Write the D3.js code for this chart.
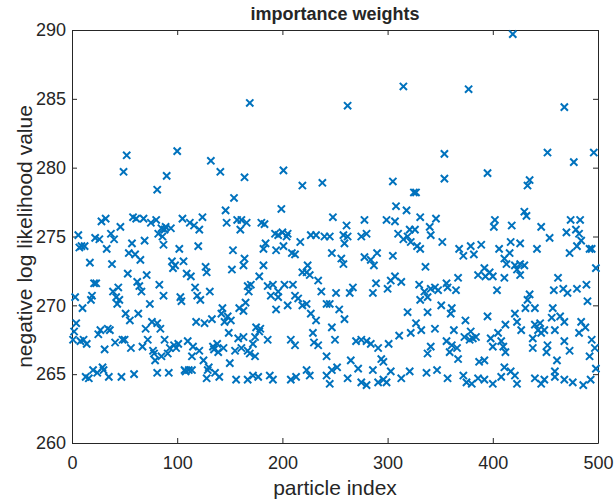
<!DOCTYPE html>
<html>
<head>
<meta charset="utf-8">
<script src="https://cdn.jsdelivr.net/npm/d3@7"></script>
<style>
  body { margin: 0; background: #fff; }
  text { font-family: "Liberation Sans", Arial, Helvetica, sans-serif; fill: #262626; }
</style>
</head>
<body>
<div id="chart"></div>
<script>
// particle index / negative log likelihood
var particle = [
  52, 49, 32, 28, 58, 61, 68, 75, 46, 6, 22, 26, 37, 40, 9, 12, 7, 57, 69, 33,
  54, 60, 65, 17, 38, 53, 71, 21, 23, 62, 64, 66, 44, 39, 42, 45, 43, 3, 19, 18,
  10, 74, 51, 55, 63, 76, 70, 4, 2, 27, 25, 34, 36, 48, 50, 41, 31, 1, 8, 14,
  11, 56, 67, 72, 77, 79, 78, 13, 20, 16, 29, 30, 24, 35, 47, 59,
  100, 132, 90, 141, 81, 154, 146, 105, 112, 116, 124, 121, 80, 85, 89, 94, 82, 86, 88, 147,
  157, 160, 87, 102, 120, 153, 152, 95, 98, 106, 96, 127, 128, 109, 113, 83, 87, 117, 119, 122,
  131, 103, 104, 143, 142, 148, 159, 145, 151, 118, 126, 133, 81, 84, 149, 158, 163, 88, 97, 99,
  110, 93, 101, 115, 121, 114, 134, 135, 138, 139, 144, 155, 161, 85, 91, 150, 125, 130, 107, 111,
  114, 108, 81, 92, 129, 136, 128, 140, 156,
  201, 164, 219, 238, 199, 166, 161, 180, 183, 193, 200, 204, 196, 205, 227, 232, 240, 184, 182, 194,
  201, 209, 212, 217, 164, 163, 182, 224, 219, 226, 223, 234, 237, 178, 170, 168, 167, 165, 163, 186,
  191, 189, 196, 196, 202, 210, 212, 215, 219, 223, 205, 194, 227, 232, 242, 175, 179, 178, 174, 172,
  167, 174, 169, 186, 208, 212, 229, 230, 234, 242, 172, 177, 167, 188, 191, 208, 213, 223, 226, 242,
  245,
  305, 325, 308, 318, 248, 278, 299, 307, 261, 258, 262, 259, 245, 275, 280, 310, 315, 321, 322, 319,
  247, 256, 258, 278, 284, 287, 290, 305, 307, 313, 303, 300, 289, 286, 267, 264, 251, 245, 254, 259,
  319, 247, 250, 270, 275, 280, 284, 291, 301, 311, 322, 294, 296, 265, 272, 252, 247, 286, 303, 321,
  313, 262, 275, 291, 296, 299, 280,
  354, 354, 395, 327, 402, 401, 331, 346, 340, 341, 326, 352, 328, 331, 368, 372, 379, 382, 389, 406,
  411, 336, 386, 392, 397, 393, 400, 330, 335, 341, 345, 348, 356, 357, 367, 365, 404, 331, 338, 351,
  361, 360, 338, 374, 395, 327, 332, 345, 363, 373, 379, 381, 378, 384, 398, 405, 356, 359, 361, 366,
  341, 338, 367, 400, 408, 387, 392, 337, 347, 357, 372, 375, 380, 386, 392, 400, 408,
  452, 477, 496, 435, 433, 430, 432, 418, 446, 454, 470, 474, 483, 479, 482, 417, 426, 442, 416, 473,
  480, 484, 492, 494, 413, 421, 426, 430, 423, 426, 498, 411, 462, 458, 467, 471, 480, 489, 490, 435,
  433, 431, 440, 421, 457, 456, 464, 468, 412, 423, 427, 440, 445, 443, 449, 459, 446, 484, 488, 482,
  438, 438, 452, 451, 468, 473, 494, 497, 492, 412, 410, 461, 459, 459, 411, 417, 421, 440, 449, 446,
  423, 468, 476, 486, 493, 498,
  169, 262, 315, 377, 468, 419
];
var nll = [
  280.9, 279.7, 276.3, 276.1, 276.4, 276.3, 276.3, 276.0, 275.7, 275.1, 274.9, 274.8, 275.2, 274.8, 274.3, 274.3, 274.2, 274.5, 274.7, 274.1,
  273.8, 273.7, 273.3, 273.1, 273.0, 272.3, 272.2, 271.6, 271.6, 271.7, 271.4, 271.0, 271.3, 271.0, 270.6, 270.4, 270.1, 270.6, 270.7, 270.4,
  269.8, 270.1, 269.4, 268.9, 269.4, 268.8, 268.3, 268.7, 268.1, 268.2, 267.9, 268.3, 268.2, 267.5, 267.5, 267.3, 266.8, 267.5, 267.4, 267.2,
  267.5, 266.9, 267.0, 267.5, 266.7, 266.0, 266.5, 264.8, 265.3, 264.7, 265.5, 265.3, 265.1, 264.8, 264.8, 265.0,
  281.2, 280.5, 279.4, 279.7, 278.4, 277.8, 276.9, 276.3, 276.0, 275.8, 276.4, 275.5, 276.2, 275.6, 275.7, 275.6, 275.2, 275.0, 275.5, 276.0,
  276.2, 275.5, 274.4, 274.1, 274.3, 274.0, 272.6, 273.2, 272.9, 273.2, 272.7, 272.8, 272.4, 272.3, 272.1, 271.5, 270.7, 271.3, 270.7, 270.4,
  271.0, 270.6, 270.3, 269.8, 269.4, 269.2, 269.8, 268.8, 268.9, 268.8, 268.7, 269.0, 268.7, 268.3, 268.0, 267.6, 267.7, 267.5, 267.1, 266.9,
  267.4, 266.9, 267.2, 267.0, 266.7, 266.3, 267.0, 266.8, 267.2, 266.6, 266.9, 266.7, 266.9, 266.3, 266.5, 265.8, 266.0, 265.5, 265.3, 265.3,
  265.3, 265.2, 265.1, 265.1, 265.3, 265.1, 264.7, 264.8, 264.6,
  279.8, 279.3, 278.7, 278.9, 277.0, 276.0, 276.2, 276.0, 275.9, 275.2, 275.3, 275.0, 275.1, 275.2, 275.1, 275.1, 275.0, 274.5, 274.1, 274.0,
  274.3, 273.8, 273.7, 274.6, 273.4, 272.9, 272.9, 272.9, 272.4, 272.2, 272.4, 271.8, 271.0, 272.1, 271.5, 271.0, 271.4, 270.2, 269.6, 271.4,
  271.5, 270.7, 271.0, 270.6, 271.5, 271.5, 270.7, 270.5, 270.0, 270.1, 270.0, 269.7, 269.4, 268.9, 270.1, 268.4, 268.3, 268.1, 267.7, 267.2,
  266.7, 266.3, 266.5, 267.5, 267.5, 267.1, 268.0, 267.3, 267.1, 266.3, 264.9, 264.8, 264.6, 264.9, 264.6, 264.6, 264.8, 265.3, 264.9, 264.9,
  264.3,
  279.0, 278.2, 277.2, 276.9, 276.4, 276.2, 276.2, 276.1, 275.8, 275.1, 275.0, 274.5, 275.0, 275.0, 275.2, 275.2, 274.8, 275.5, 274.6, 275.0,
  273.8, 273.4, 273.0, 273.5, 273.3, 272.9, 273.8, 273.6, 272.1, 271.7, 271.8, 271.2, 271.6, 270.9, 271.3, 270.9, 270.9, 270.1, 269.7, 269.0,
  269.5, 268.4, 267.5, 267.4, 267.5, 267.4, 267.2, 266.9, 267.2, 267.8, 268.0, 266.1, 265.9, 266.0, 265.4, 265.5, 265.3, 265.3, 265.2, 265.2,
  264.7, 264.7, 264.4, 264.4, 264.6, 264.4, 264.2,
  281.0, 279.2, 279.6, 278.2, 276.2, 275.7, 276.4, 276.3, 275.7, 275.1, 275.5, 274.6, 274.3, 274.1, 274.1, 273.6, 274.3, 273.7, 274.4, 274.1,
  273.4, 272.8, 272.2, 272.7, 272.4, 272.1, 272.1, 271.5, 271.0, 271.2, 271.3, 271.1, 271.6, 271.3, 272.0, 271.1, 271.1, 270.4, 270.6, 270.0,
  269.8, 269.4, 269.5, 268.9, 269.2, 268.7, 268.2, 268.3, 268.2, 267.7, 268.1, 267.6, 267.5, 267.7, 267.6, 268.0, 267.4, 266.6, 267.1, 266.9,
  267.0, 266.5, 266.1, 267.0, 267.4, 265.9, 266.0, 265.1, 265.3, 264.7, 264.9, 264.4, 264.3, 264.7, 264.6, 264.3, 264.8,
  281.1, 280.4, 281.1, 279.1, 278.7, 276.8, 276.5, 275.8, 275.7, 274.9, 275.3, 276.2, 276.2, 275.5, 275.2, 274.6, 274.5, 274.1, 273.8, 273.8,
  274.3, 274.7, 274.1, 274.1, 273.0, 272.9, 273.0, 272.9, 272.6, 272.2, 272.7, 272.0, 272.0, 271.1, 271.2, 270.9, 271.2, 271.5, 270.3, 270.8,
  270.4, 269.8, 269.8, 269.4, 269.8, 269.1, 269.2, 268.8, 268.6, 268.8, 268.2, 268.6, 268.7, 268.2, 268.2, 268.2, 268.0, 268.8, 268.4, 268.0,
  267.6, 266.9, 267.1, 266.6, 267.4, 266.7, 267.5, 266.9, 266.3, 266.6, 267.0, 266.0, 265.2, 264.8, 265.5, 265.2, 264.9, 264.7, 264.6, 264.3,
  264.3, 264.6, 264.4, 264.2, 264.6, 265.4,
  284.7, 284.5, 285.9, 285.7, 284.4, 289.7
];
var xTicks = [0, 100, 200, 300, 400, 500];
var yTicks = [260, 265, 270, 275, 280, 285, 290];

var width = 614, height = 503;
var margin = {top: 30, right: 16, bottom: 60, left: 72};
var plotW = width - margin.left - margin.right,
    plotH = height - margin.top - margin.bottom;

var svg = d3.select('#chart').append('svg')
  .attr('width', width)
  .attr('height', height);

var x = d3.scaleLinear().domain([0, 500]).range([0, plotW]);
var y = d3.scaleLinear().domain([260, 290]).range([plotH, 0]);

var g = svg.append('g')
  .attr('transform', 'translate(' + margin.left + ',' + margin.top + ')');

var axisColor = '#262626';
var tickLen = 5;

// axes with inward ticks, MATLAB style
var xAxis = g.append('g').attr('transform', 'translate(0,' + plotH + ')')
  .call(d3.axisBottom(x).tickValues(xTicks).tickSizeInner(-tickLen).tickSizeOuter(0).tickPadding(13));
var xAxisTop = g.append('g')
  .call(d3.axisTop(x).tickValues(xTicks).tickSizeInner(-tickLen).tickSizeOuter(0).tickFormat(''));
var yAxis = g.append('g')
  .call(d3.axisLeft(y).tickValues(yTicks).tickSizeInner(-tickLen).tickSizeOuter(0).tickPadding(6));
var yAxisRight = g.append('g').attr('transform', 'translate(' + plotW + ',0)')
  .call(d3.axisRight(y).tickValues(yTicks).tickSizeInner(-tickLen).tickSizeOuter(0).tickFormat(''));

[xAxis, xAxisTop, yAxis, yAxisRight].forEach(function(a) {
  a.select('.domain').attr('stroke', axisColor).attr('stroke-width', 1);
  a.selectAll('.tick line').attr('stroke', axisColor).attr('stroke-width', 1);
  a.selectAll('.tick text')
    .attr('fill', axisColor)
    .style('font-family', '"Liberation Sans", Arial, sans-serif')
    .style('font-size', '18px');
});

var pts = particle.map(function(p, i) { return {p: p, v: nll[i]}; });

var s = 3.6;
g.append('g').selectAll('path')
  .data(pts)
  .enter().append('path')
  .attr('transform', function(d) { return 'translate(' + x(d.p) + ',' + y(d.v) + ')'; })
  .attr('d', 'M' + (-s) + ',' + (-s) + 'L' + s + ',' + s + 'M' + (-s) + ',' + s + 'L' + s + ',' + (-s))
  .attr('stroke', '#0072BD')
  .attr('stroke-width', 2)
  .attr('fill', 'none');

svg.append('text')
  .attr('x', margin.left + plotW / 2)
  .attr('y', 20)
  .attr('text-anchor', 'middle')
  .style('font-size', '18px')
  .style('font-weight', 'bold')
  .attr('fill', '#000')
  .text('importance weights');

svg.append('text')
  .attr('x', margin.left + plotW / 2)
  .attr('y', 495)
  .attr('text-anchor', 'middle')
  .style('font-size', '21px')
  .text('particle index');

svg.append('text')
  .attr('transform', 'translate(32,' + (margin.top + plotH / 2) + ') rotate(-90)')
  .attr('text-anchor', 'middle')
  .style('font-size', '21px')
  .text('negative log likelihood value');
</script>
</body>
</html>
